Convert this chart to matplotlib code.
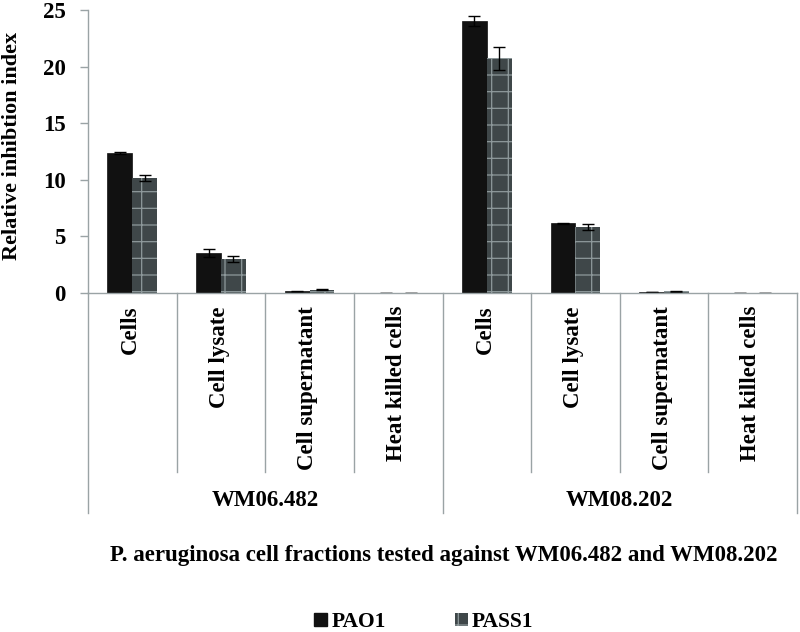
import matplotlib
matplotlib.use("Agg")
import matplotlib.pyplot as plt
from matplotlib.patches import Patch
from matplotlib.transforms import blended_transform_factory
import numpy as np

plt.rcParams['font.family'] = ['Liberation Serif', 'DejaVu Serif']
plt.rcParams['font.weight'] = 'bold'
plt.rcParams['hatch.linewidth'] = 0.9

groups = ["WM06.482", "WM08.202"]
fractions = ["Cells", "Cell lysate", "Cell supernatant", "Heat killed cells"]
series = ["PAO1", "PASS1"]
pao1 = [12.4, 3.5, 0.15, 0.02, 24.05, 6.15, 0.10, 0.02]
pao1_err = [0.1, 0.35, 0.03, 0.0, 0.45, 0.05, 0.02, 0.0]
pass1 = [10.13, 3.0, 0.3, 0.02, 20.73, 5.83, 0.15, 0.02]
pass1_err = [0.25, 0.25, 0.05, 0.0, 1.0, 0.26, 0.03, 0.0]
yticks = [0, 5, 10, 15, 20, 25]

W, H = 800, 632
fig = plt.figure(figsize=(8, 6.32), dpi=100)
x0, x1, y0, y1 = 88, 797, 293, 10
ax = fig.add_axes([x0 / W, 1 - y0 / H, (x1 - x0) / W, (y0 - y1) / H])

n = len(pao1)
centers = np.arange(n) + 0.5
bw = 0.28
ax.bar(centers - bw / 2, pao1, bw, color='#111111', edgecolor='#111111', linewidth=0.5,
       yerr=pao1_err, error_kw=dict(ecolor='black', capsize=4, elinewidth=1, capthick=1), zorder=2)
ax.bar(centers + bw / 2, pass1, bw, color='#3f4749', edgecolor='#8e999b', linewidth=0,
       hatch='+', yerr=pass1_err, error_kw=dict(ecolor='black', capsize=4, elinewidth=1, capthick=1), zorder=2)

ax.set_xlim(0, n)
ax.set_ylim(0, 25)
ax.set_yticks(yticks)
ax.set_yticklabels([str(t) for t in yticks], fontsize=16.5, fontweight='bold')
ax.set_xticks([])
ax.tick_params(axis='y', direction='out', length=6, color='#9aa3a5', width=1, pad=10)
for s in ['top', 'right']:
    ax.spines[s].set_visible(False)
for s in ['left', 'bottom']:
    ax.spines[s].set_color('#9aa3a5')
    ax.spines[s].set_linewidth(1)
ax.set_ylabel("Relative inhibtion index", fontsize=16, fontweight='bold')
ax.yaxis.set_label_coords(-(x0 - 22) / (x1 - x0), (y0 - 146) / (y0 - y1))

trans = blended_transform_factory(ax.transData, ax.transAxes)
ph = y0 - y1
cat_end = -(472 - y0) / ph
grp_end = -(513 - y0) / ph
for k in range(n + 1):
    ye = grp_end if k % 4 == 0 else cat_end
    ax.plot([k, k], [0, ye], color='#9aa3a5', lw=1, transform=trans, clip_on=False)

labels_all = fractions * len(groups)
for i, lab in enumerate(labels_all):
    ax.text(centers[i] - 0.02, -(306 - y0) / ph, lab, rotation=90, ha='center', va='top',
            fontsize=16.5, fontweight='bold', transform=trans)

for g, name in enumerate(groups):
    ax.text(g * 4 + 2, -(500 - y0) / ph, name, ha='center', va='center',
            fontsize=16.5, fontweight='bold', transform=trans)

fig.text(444 / W, 1 - 555 / H,
         "P. aeruginosa cell fractions tested against WM06.482 and WM08.202",
         ha='center', va='center', fontsize=16.5, fontweight='bold')

handles = [Patch(facecolor='#111111', edgecolor='#111111'),
           Patch(facecolor='#3f4749', edgecolor='#8e999b', linewidth=0, hatch='+')]
fig.legend(handles, series, loc='center', bbox_to_anchor=(424 / W, 1 - 622 / H), ncol=2,
           frameon=False, handlelength=0.6, handleheight=0.6,
           handletextpad=0.2, columnspacing=3.2, prop={'weight': 'bold', 'size': 15.5})

fig.savefig("out.png", dpi=100)
